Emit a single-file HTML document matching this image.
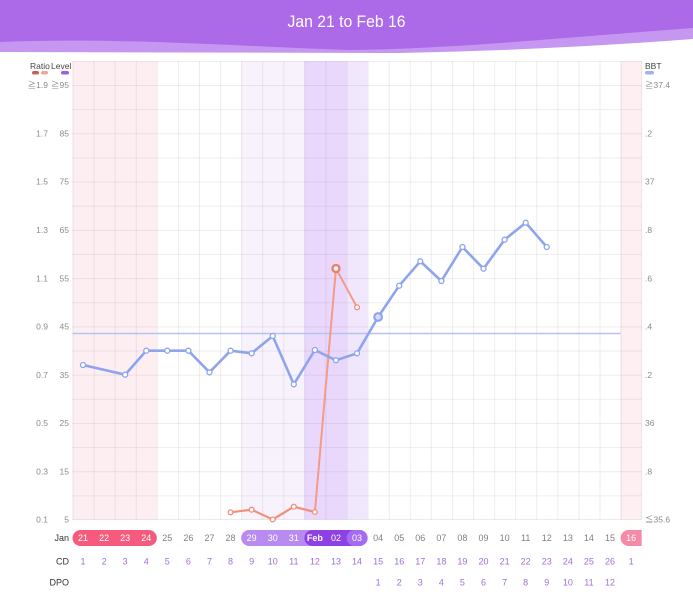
<!DOCTYPE html>
<html>
<head>
<meta charset="utf-8">
<style>
  html,body{margin:0;padding:0;background:#fff;}
  svg{display:block;}
  text{font-family:"Liberation Sans","Noto Sans CJK KR","DejaVu Sans",sans-serif;}
</style>
</head>
<body>
<svg width="693" height="600" viewBox="0 0 693 600" xmlns="http://www.w3.org/2000/svg">
  <defs>
    <pattern id="grid" patternUnits="userSpaceOnUse" x="72.5" y="60.86" width="21.08" height="24.14">
      <line x1="0.5" y1="0" x2="0.5" y2="24.14" stroke="rgba(0,0,0,0.065)" stroke-width="1"/>
      <line x1="0" y1="0.5" x2="21.08" y2="0.5" stroke="rgba(0,0,0,0.065)" stroke-width="1"/>
    </pattern>
  </defs>

  <!-- Header -->
  <path d="M0,0 L693,0 L693,39 Q550,50 400,53 L0,52 Z" fill="#c597f1"/>
  <path d="M0,0 L693,0 L693,28 C560,38 450,49 350,50 C250,47 120,37 0,42 Z" fill="#ac6ae9"/>
  <text x="346.5" y="27" text-anchor="middle" fill="#ffffff" font-size="17" textLength="118" lengthAdjust="spacingAndGlyphs">Jan 21  to  Feb 16</text>

  <!-- Background shading -->
  <rect x="72.5" y="61" width="84.32" height="458.5" fill="#fdeef2"/>
  <rect x="241.14" y="61" width="63.24" height="458.5" fill="#f8f2fd"/>
  <rect x="304.38" y="61" width="42.16" height="458.5" fill="#ead8fc"/>
  <rect x="346.54" y="61" width="21.08" height="458.5" fill="#f1e7fd"/>
  <rect x="620.58" y="61" width="21.08" height="458.5" fill="#fdeff2"/>

  <!-- Grid -->
  <rect x="72.5" y="61" width="569.16" height="458.5" fill="url(#grid)"/>
  <line x1="641.66" y1="61" x2="641.66" y2="519.5" stroke="rgba(0,0,0,0.065)"/>
  <line x1="72.5" y1="519.5" x2="641.66" y2="519.5" stroke="rgba(0,0,0,0.08)"/>

  <!-- Legend -->
  <text x="30" y="69" font-size="8.5" fill="#444">Ratio</text>
  <text x="51" y="69" font-size="8.5" fill="#444">Level</text>
  <rect x="32" y="71" width="7" height="3.5" rx="1.75" fill="#c0645f"/>
  <rect x="41" y="71" width="7" height="3.5" rx="1.75" fill="#f1a795"/>
  <rect x="61" y="71" width="8" height="3.5" rx="1.75" fill="#9e5fe3"/>
  <text x="645" y="69" font-size="8.5" fill="#444">BBT</text>
  <rect x="645" y="71" width="9" height="3.5" rx="1.75" fill="#9fb1ee"/>

  <!-- Left axis labels -->
  <g font-size="8.5" fill="#8a8a8a" text-anchor="end">
    <text x="48" y="88">≧1.9</text><text x="69" y="88">≧95</text>
    <text x="48" y="136.5">1.7</text><text x="69" y="136.5">85</text>
    <text x="48" y="184.7">1.5</text><text x="69" y="184.7">75</text>
    <text x="48" y="233">1.3</text><text x="69" y="233">65</text>
    <text x="48" y="281.3">1.1</text><text x="69" y="281.3">55</text>
    <text x="48" y="329.6">0.9</text><text x="69" y="329.6">45</text>
    <text x="48" y="377.9">0.7</text><text x="69" y="377.9">35</text>
    <text x="48" y="426.1">0.5</text><text x="69" y="426.1">25</text>
    <text x="48" y="474.4">0.3</text><text x="69" y="474.4">15</text>
    <text x="48" y="522.7">0.1</text><text x="69" y="522.7">5</text>
  </g>
  <!-- Right axis labels -->
  <g font-size="8.5" fill="#8a8a8a">
    <text x="645" y="88">≧37.4</text>
    <text x="645" y="136.5">.2</text>
    <text x="645" y="184.7">37</text>
    <text x="645" y="233">.8</text>
    <text x="645" y="281.3">.6</text>
    <text x="645" y="329.6">.4</text>
    <text x="645" y="377.9">.2</text>
    <text x="645" y="426.1">36</text>
    <text x="645" y="474.4">.8</text>
    <text x="645" y="522.7">≦35.6</text>
  </g>

  <!-- BBT coverline -->
  <line x1="72.5" y1="333.5" x2="620.58" y2="333.5" stroke="#b6c3f1" stroke-width="1.5"/>

  <!-- Ratio (red) series -->
  <polyline points="230.56,512.3 251.64,509.7 272.72,519.5 293.8,506.7 314.88,512" fill="none" stroke="#f0907c" stroke-width="2.2" stroke-linejoin="round"/>
  <polyline points="314.88,512 335.96,268.5 357.04,307.3" fill="none" stroke="#f49a86" stroke-width="2" stroke-linejoin="round"/>
  <g fill="#fff" stroke="#f0907c" stroke-width="1.3">
    <circle cx="230.56" cy="512.3" r="2.4"/>
    <circle cx="251.64" cy="509.7" r="2.4"/>
    <circle cx="272.72" cy="519.5" r="2.4"/>
    <circle cx="293.8" cy="506.7" r="2.4"/>
    <circle cx="314.88" cy="512" r="2.4"/>
    <circle cx="357.04" cy="307.3" r="2.4"/>
  </g>
  <circle cx="335.96" cy="268.5" r="3.5" fill="#fff" stroke="#ef8068" stroke-width="2.4"/>

  <!-- BBT (blue) series -->
  <polyline points="83,365 125.16,374.7 146.24,350.7 167.32,350.7 188.4,350.7 209.48,372.3 230.56,350.7 251.64,353.3 272.72,336 293.8,384.3 314.88,350 335.96,360.3 357.04,353.3 378.12,317 399.2,285.7 420.28,261.3 441.36,281 462.44,247 483.52,268.7 504.6,239.7 525.68,222.7 546.76,247" fill="none" stroke="#8fa4ec" stroke-width="2.6" stroke-linejoin="round"/>
  <g fill="#fff" stroke="#8fa4ec" stroke-width="1.3">
    <circle cx="83" cy="365" r="2.5"/>
    <circle cx="125.16" cy="374.7" r="2.5"/>
    <circle cx="146.24" cy="350.7" r="2.5"/>
    <circle cx="167.32" cy="350.7" r="2.5"/>
    <circle cx="188.4" cy="350.7" r="2.5"/>
    <circle cx="209.48" cy="372.3" r="2.5"/>
    <circle cx="230.56" cy="350.7" r="2.5"/>
    <circle cx="251.64" cy="353.3" r="2.5"/>
    <circle cx="272.72" cy="336" r="2.5"/>
    <circle cx="293.8" cy="384.3" r="2.5"/>
    <circle cx="314.88" cy="350" r="2.5"/>
    <circle cx="335.96" cy="360.3" r="2.5"/>
    <circle cx="357.04" cy="353.3" r="2.5"/>
    <circle cx="399.2" cy="285.7" r="2.5"/>
    <circle cx="420.28" cy="261.3" r="2.5"/>
    <circle cx="441.36" cy="281" r="2.5"/>
    <circle cx="462.44" cy="247" r="2.5"/>
    <circle cx="483.52" cy="268.7" r="2.5"/>
    <circle cx="504.6" cy="239.7" r="2.5"/>
    <circle cx="525.68" cy="222.7" r="2.5"/>
    <circle cx="546.76" cy="247" r="2.5"/>
  </g>
  <circle cx="378.12" cy="317" r="3.8" fill="#d6defa" stroke="#8fa4ec" stroke-width="2.2"/>

  <!-- Date row pills -->
  <rect x="72.5" y="530" width="84.32" height="16" rx="8" fill="#f65a7c"/>
  <rect x="241.14" y="530" width="126.48" height="16" rx="8" fill="#b98bf0"/>
  <rect x="304.38" y="530" width="56" height="16" rx="8" fill="#8d40e4"/>
  <rect x="346.54" y="530" width="21.08" height="16" rx="8" fill="#a56cef"/>
  <path d="M628.58,530 L641.66,530 L641.66,546 L628.58,546 A8,8 0 0 1 628.58,530 Z" fill="#f58aa6"/>

  <!-- Row labels -->
  <g font-size="9" fill="#333" text-anchor="end">
    <text x="69" y="541">Jan</text>
    <text x="69" y="564.5">CD</text>
    <text x="69" y="585.5">DPO</text>
  </g>

  <!-- Date row -->
  <g font-size="9" text-anchor="middle" fill="#fff">
    <text x="83" y="541">21</text>
    <text x="104.08" y="541">22</text>
    <text x="125.16" y="541">23</text>
    <text x="146.24" y="541">24</text>
    <text x="251.64" y="541">29</text>
    <text x="272.72" y="541">30</text>
    <text x="293.8" y="541">31</text>
    <text x="314.88" y="541" font-weight="bold">Feb</text>
    <text x="335.96" y="541">02</text>
    <text x="357.04" y="541">03</text>
    <text x="631.08" y="541">16</text>
  </g>
  <g font-size="9" text-anchor="middle" fill="#808080">
    <text x="167.32" y="541">25</text>
    <text x="188.4" y="541">26</text>
    <text x="209.48" y="541">27</text>
    <text x="230.56" y="541">28</text>
    <text x="378.12" y="541">04</text>
    <text x="399.2" y="541">05</text>
    <text x="420.28" y="541">06</text>
    <text x="441.36" y="541">07</text>
    <text x="462.44" y="541">08</text>
    <text x="483.52" y="541">09</text>
    <text x="504.6" y="541">10</text>
    <text x="525.68" y="541">11</text>
    <text x="546.76" y="541">12</text>
    <text x="567.84" y="541">13</text>
    <text x="588.92" y="541">14</text>
    <text x="610" y="541">15</text>
  </g>

  <!-- CD row -->
  <g font-size="9" text-anchor="middle" fill="#9f6fd8">
    <text x="83" y="564.5">1</text>
    <text x="104.08" y="564.5">2</text>
    <text x="125.16" y="564.5">3</text>
    <text x="146.24" y="564.5">4</text>
    <text x="167.32" y="564.5">5</text>
    <text x="188.4" y="564.5">6</text>
    <text x="209.48" y="564.5">7</text>
    <text x="230.56" y="564.5">8</text>
    <text x="251.64" y="564.5">9</text>
    <text x="272.72" y="564.5">10</text>
    <text x="293.8" y="564.5">11</text>
    <text x="314.88" y="564.5">12</text>
    <text x="335.96" y="564.5">13</text>
    <text x="357.04" y="564.5">14</text>
    <text x="378.12" y="564.5">15</text>
    <text x="399.2" y="564.5">16</text>
    <text x="420.28" y="564.5">17</text>
    <text x="441.36" y="564.5">18</text>
    <text x="462.44" y="564.5">19</text>
    <text x="483.52" y="564.5">20</text>
    <text x="504.6" y="564.5">21</text>
    <text x="525.68" y="564.5">22</text>
    <text x="546.76" y="564.5">23</text>
    <text x="567.84" y="564.5">24</text>
    <text x="588.92" y="564.5">25</text>
    <text x="610" y="564.5">26</text>
    <text x="631.08" y="564.5">1</text>
  </g>

  <!-- DPO row -->
  <g font-size="9" text-anchor="middle" fill="#9f6fd8">
    <text x="378.12" y="585.5">1</text>
    <text x="399.2" y="585.5">2</text>
    <text x="420.28" y="585.5">3</text>
    <text x="441.36" y="585.5">4</text>
    <text x="462.44" y="585.5">5</text>
    <text x="483.52" y="585.5">6</text>
    <text x="504.6" y="585.5">7</text>
    <text x="525.68" y="585.5">8</text>
    <text x="546.76" y="585.5">9</text>
    <text x="567.84" y="585.5">10</text>
    <text x="588.92" y="585.5">11</text>
    <text x="610" y="585.5">12</text>
  </g>
</svg>
</body>
</html>
